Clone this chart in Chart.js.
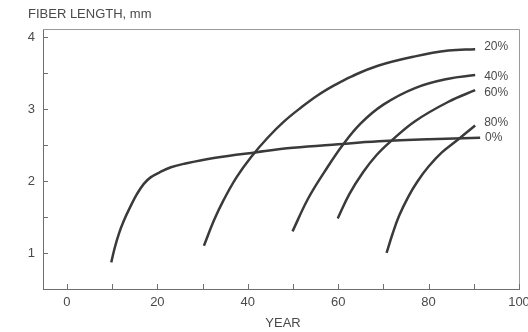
<!DOCTYPE html>
<html><head><meta charset="utf-8">
<script src="https://cdn.jsdelivr.net/npm/chart.js@4.4.1/dist/chart.umd.min.js"></script>
<style>html,body{margin:0;padding:0;background:#fff}#wrap{width:528px;height:332px}</style>
</head><body><div id="wrap"><canvas id="c" width="528" height="332"></canvas></div>
<script>
// ---- data ----
const seriesNames = ['0%', '20%', '40%', '60%', '80%'];

const years0 = [9.8, 10.6, 11.5, 12.6, 14, 15.5, 17, 18.5, 20.5, 23, 26, 32.5, 42, 50, 60, 69, 80, 91.4];
const length0 = [0.87, 1.08, 1.27, 1.45, 1.64, 1.82, 1.96, 2.05, 2.12, 2.19, 2.24, 2.32, 2.40, 2.46, 2.51, 2.55, 2.58, 2.60];

const years20 = [30.3, 32.5, 34.7, 37.5, 40.7, 44.4, 48.1, 51.8, 55.5, 59.2, 62.9, 68.8, 77, 84.4, 90.3];
const length20 = [1.10, 1.45, 1.74, 2.05, 2.33, 2.60, 2.83, 3.02, 3.19, 3.33, 3.45, 3.60, 3.73, 3.81, 3.83];

const years40 = [49.9, 53.3, 57, 61, 65, 70, 77, 84.4, 90.3];
const length40 = [1.30, 1.75, 2.13, 2.50, 2.80, 3.06, 3.29, 3.42, 3.47];

const years60 = [59.9, 62.5, 65.5, 68.5, 71.8, 77, 84.4, 90.3];
const length60 = [1.48, 1.82, 2.12, 2.36, 2.56, 2.83, 3.10, 3.26];

const years80 = [70.7, 72, 73.5, 75.5, 77.5, 80, 83, 86.6, 90.3];
const length80 = [1.00, 1.26, 1.52, 1.78, 1.99, 2.20, 2.40, 2.58, 2.77];

const xTickValues = [0, 10, 20, 30, 40, 50, 60, 70, 80, 90, 100];
const xTickLabels = ['0', '', '20', '', '40', '', '60', '', '80', '', '100'];
const yTickValues = [1, 1.5, 2, 2.5, 3, 3.5, 4];
const yTickLabels = ['1', '', '2', '', '3', '', '4'];

const yAxisTitle = 'FIBER LENGTH, mm';
const xAxisTitle = 'YEAR';

// ---- styling ----
const LINE = '#3a3a3a';
const TEXT = '#4a4a4a';
const AXIS = '#6e6e6e';
const FONT = '"Liberation Sans", Arial, sans-serif';
const labelDx = [5, 9, 9, 9, 9];
const labelDy = [0, -2, 2, 2, -3];

const seriesX = [years0, years20, years40, years60, years80];
const seriesY = [length0, length20, length40, length60, length80];

const datasets = seriesNames.map((name, i) => ({
  label: name,
  data: seriesX[i].map((x, j) => ({ x: x, y: seriesY[i][j] })),
  borderColor: LINE,
  borderWidth: 2.5,
  pointRadius: 0,
  fill: false,
  tension: 0.4,
  borderCapStyle: 'butt'
}));

const decor = {
  id: 'decor',
  afterDraw(chart) {
    const ctx = chart.ctx;
    const a = chart.chartArea;
    const xs = chart.scales.x, ys = chart.scales.y;
    ctx.save();
    // top and right frame
    ctx.strokeStyle = '#9a9a9a';
    ctx.lineWidth = 1;
    ctx.beginPath();
    ctx.moveTo(Math.round(a.left), Math.round(a.top) + 0.5);
    ctx.lineTo(Math.round(a.right) + 0.5, Math.round(a.top) + 0.5);
    ctx.lineTo(Math.round(a.right) + 0.5, Math.round(a.bottom));
    ctx.stroke();
    // inward ticks
    ctx.strokeStyle = AXIS;
    ctx.beginPath();
    xTickValues.forEach(v => {
      const px = Math.round(xs.getPixelForValue(v)) + 0.5;
      ctx.moveTo(px, a.bottom);
      ctx.lineTo(px, a.bottom - 5);
    });
    yTickValues.forEach(v => {
      const py = Math.round(ys.getPixelForValue(v)) + 0.5;
      ctx.moveTo(a.left, py);
      ctx.lineTo(a.left + 5, py);
    });
    ctx.stroke();
    // axis titles
    ctx.fillStyle = TEXT;
    ctx.font = '13px ' + FONT;
    ctx.textBaseline = 'middle';
    ctx.textAlign = 'left';
    ctx.fillText(yAxisTitle, 28, 14);
    ctx.textAlign = 'center';
    ctx.fillText(xAxisTitle, (a.left + a.right) / 2 + 2, 323);
    // series labels at curve ends
    ctx.font = '12px ' + FONT;
    ctx.textAlign = 'left';
    chart.data.datasets.forEach((ds, i) => {
      const meta = chart.getDatasetMeta(i);
      const last = meta.data[meta.data.length - 1];
      ctx.fillText(ds.label, last.x + labelDx[i], last.y + labelDy[i]);
    });
    ctx.restore();
  }
};

new Chart(document.getElementById('c'), {
  type: 'line',
  data: { datasets: datasets },
  options: {
    responsive: false,
    animation: false,
    devicePixelRatio: 1,
    layout: { padding: { top: 29, right: 9, left: 0, bottom: 0 } },
    plugins: { legend: { display: false }, tooltip: { enabled: false } },
    scales: {
      x: {
        type: 'linear',
        min: -5.3,
        max: 100,
        afterBuildTicks: s => { s.ticks = xTickValues.map(v => ({ value: v })); },
        afterFit: s => { s.height = 43; s.paddingLeft = 0; s.paddingRight = 0; },
        grid: { drawOnChartArea: false, drawTicks: false },
        border: { display: true, color: AXIS, width: 1 },
        ticks: {
          padding: 6,
          color: TEXT,
          font: { size: 13, family: FONT },
          maxRotation: 0,
          autoSkip: false,
          callback: (v) => { const k = xTickValues.indexOf(v); return k >= 0 ? xTickLabels[k] : ''; }
        }
      },
      y: {
        type: 'linear',
        min: 0.5,
        max: 4.11,
        afterBuildTicks: s => { s.ticks = yTickValues.map(v => ({ value: v })); },
        afterFit: s => { s.width = 43; s.paddingTop = 0; s.paddingBottom = 0; },
        grid: { drawOnChartArea: false, drawTicks: false },
        border: { display: true, color: AXIS, width: 1 },
        ticks: {
          padding: 8,
          color: TEXT,
          font: { size: 13, family: FONT },
          autoSkip: false,
          callback: (v) => { const k = yTickValues.indexOf(v); return k >= 0 ? yTickLabels[k] : ''; }
        }
      }
    }
  },
  plugins: [decor]
});
</script>
</body></html>
